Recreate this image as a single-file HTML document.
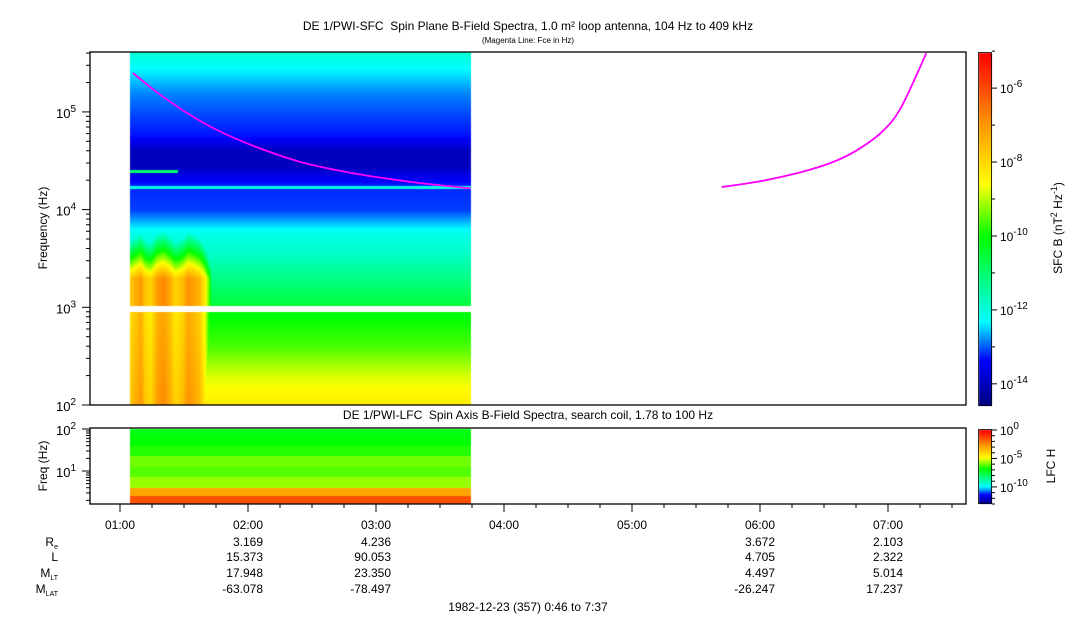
<!DOCTYPE html>
<html><head><meta charset="utf-8">
<style>
body{margin:0;background:#fff;width:1083px;height:620px;overflow:hidden;position:relative;font-family:"Liberation Sans",sans-serif;}
canvas{position:absolute;left:0;top:0;}
svg{position:absolute;left:0;top:0;}
</style></head>
<body>
<canvas id="cv" width="1083" height="620"></canvas>
<svg id="sv" width="1083" height="620" font-family="Liberation Sans, sans-serif"></svg>
<script>
// ---- data ----
const sfcBgLogF = [2.0, 2.3, 2.6, 2.95, 3.05, 3.3, 3.55, 3.75, 3.9, 4.0, 4.25, 4.45, 4.6, 4.75, 4.95, 5.2, 5.45, 5.62];
const sfcBgPow  = [-8.3, -8.8, -9.6, -10.1, -10.6, -11.2, -11.8, -12.1, -12.7, -13.1, -13.2, -14.0, -14.0, -13.3, -13.1, -12.8, -12.3, -11.9];
const burstTimes = [1.08, 1.12, 1.16, 1.20, 1.24, 1.29, 1.34, 1.38, 1.43, 1.48, 1.53, 1.57, 1.62, 1.66, 1.71];
const burstPow   = [-7.7, -7.3, -7.0, -7.8, -7.9, -7.0, -6.8, -7.2, -7.9, -7.6, -6.9, -7.1, -7.5, -8.3, -10.2];
const dataStart = 1.078, dataEnd = 3.74;
const fceTimesA = [1.10, 1.30, 1.52, 1.75, 2.04, 2.40, 2.82, 3.30, 3.74];
const fceHzA    = [250000, 155000, 98000, 66000, 45000, 31000, 23600, 19000, 16500];
const fceTimesB = [5.70, 6.00, 6.31, 6.55, 6.75, 6.95, 7.10, 7.30];
const fceHzB    = [17000, 19500, 24000, 30000, 40000, 62000, 110000, 400000];
const lfcBandLogF = [2.0, 1.85, 1.6, 1.35, 1.1, 0.85, 0.6, 0.4, 0.21];
const lfcBandPow  = [-7.0, -6.8, -6.5, -5.9, -6.1, -5.6, -2.9, -1.4];
const hourTicks = ["01:00","02:00","03:00","04:00","05:00","06:00","07:00"];
const ephemLabels = ["R","L","M","M"];
const ephemSubs = ["e","","LT","LAT"];
const ephemCols = [2, 3, 6, 7];
const ephemRe  = ["3.169","4.236","3.672","2.103"];
const ephemL   = ["15.373","90.053","4.705","2.322"];
const ephemMLT = ["17.948","23.350","4.497","5.014"];
const ephemMLAT= ["-63.078","-78.497","-26.247","17.237"];

// ---- axes ----
const X0=90,X1=966;
const tx = t => 120 + (t-1)*128;
const fy = lf => 405 - (lf-2)*97.7;
const ly = lf => 471 - (lf-1)*42;
const stops=[[0,[0,0,127]],[0.13,[0,0,255]],[0.24,[0,255,255]],[0.48,[0,255,0]],[0.63,[255,255,0]],[0.8,[255,150,0]],[1,[255,0,0]]];
function cmap(n){n=Math.max(0,Math.min(1,n));for(let i=1;i<stops.length;i++){if(n<=stops[i][0]){const a=stops[i-1],b=stops[i],f=(n-a[0])/(b[0]-a[0]);return a[1].map((v,k)=>Math.round(v+(b[1][k]-v)*f));}}return stops[stops.length-1][1];}
const sfcN = p => (p+14.6)/9.55;
const lfcN = p => (p+13)/13;
function interp(xs,ys,x){if(x<=xs[0])return ys[0];for(let i=1;i<xs.length;i++){if(x<=xs[i]){const f=(x-xs[i-1])/(xs[i]-xs[i-1]);return ys[i-1]+(ys[i]-ys[i-1])*f;}}return ys[ys.length-1];}

const cv=document.getElementById('cv'),ctx=cv.getContext('2d');
const img=ctx.createImageData(1083,620);
function put(x,y,c){const i=(y*1083+x)*4;img.data[i]=c[0];img.data[i+1]=c[1];img.data[i+2]=c[2];img.data[i+3]=255;}
const xa=Math.round(tx(dataStart)), xb=Math.round(tx(dataEnd));
const tEnd=burstTimes[burstTimes.length-1];
for(let x=xa;x<xb;x++){
  const t=1+(x-120)/128;
  const bp = t<=tEnd ? interp(burstTimes,burstPow,t) : -20;
  for(let y=52;y<405;y++){
    if(y>=306&&y<312)continue;
    const lf=2+(405-y)/97.7;
    let p=interp(sfcBgLogF,sfcBgPow,lf);
    if(y>=312){ p=Math.max(p,bp-(lf-2)*0.4); }
    else {
      p=Math.max(p,bp-Math.max(0,lf-3.3)*11);
      if(t<1.62 && lf>3.35 && lf<3.95){p=Math.max(p,-11.2-(lf-3.4)*3.6);}
    }
    if(Math.abs(y-187)<=1.5) p=-12.1;
    if(Math.abs(y-171)<=1 && t<1.45) p=-11.0;
    put(x,y,cmap(sfcN(p)));
  }
  for(let b=0;b<lfcBandPow.length;b++){
    const ya=Math.round(ly(lfcBandLogF[b])), yb=Math.round(ly(lfcBandLogF[b+1]));
    const c=cmap(lfcN(lfcBandPow[b]));
    for(let y=Math.max(ya,429);y<Math.min(yb,504);y++)put(x,y,c);
  }
}
for(let y=53;y<406;y++){const c=cmap((406-y)/353);for(let x=979;x<992;x++)put(x,y,c);}
for(let y=430;y<504;y++){const c=cmap((504-y)/74);for(let x=979;x<992;x++)put(x,y,c);}
ctx.putImageData(img,0,0);

// ---- svg ----
const sv=document.getElementById('sv');const NS='http://www.w3.org/2000/svg';
function el(tag,attrs,parent){const e=document.createElementNS(NS,tag);for(const k in attrs)e.setAttribute(k,attrs[k]);(parent||sv).appendChild(e);return e;}
function txt(s,x,y,size,anchor,name){const e=el('text',{x:x,y:y,'font-size':size,'text-anchor':anchor||'start',fill:'#000'});e.textContent=s;


return e;}
function sup(base,exp,x,y,name){const e=el('text',{x:x,y:y,'font-size':13,'text-anchor':'end',fill:'#000'});
const a=el('tspan',{},e);a.textContent=base;const b=el('tspan',{dy:-6,'font-size':10},e);b.textContent=exp;return e;}
const f1=el('rect',{x:X0,y:52,width:X1-X0,height:353,fill:'none',stroke:'#000','stroke-width':1.3});

const f2=el('rect',{x:X0,y:428,width:X1-X0,height:76,fill:'none',stroke:'#000','stroke-width':1.3});

for(let d=2;d<=5;d++){for(let m=1;m<10;m++){const lf=d+Math.log10(m);if(lf>5.62)break;const y=fy(lf);
 const l=el('line',{x1:X0-(m==1?8:4),x2:X0,y1:y,y2:y,stroke:'#000'});}
 sup('10',String(d),X0-14,fy(d)+6,'y-tick-label');}
for(let d=0;d<=2;d++){for(let m=1;m<10;m++){const lf=d+Math.log10(m);const y=ly(lf);if(y<428||y>504)continue;if(d==2&&m>1)break;
 const l=el('line',{x1:X0-(m==1?8:4),x2:X0,y1:y,y2:y,stroke:'#000'});}}
sup('10','2',X0-14,ly(2)+6,'lfc-y-tick-label');sup('10','1',X0-14,ly(1)+6,'lfc-y-tick-label');
let t1=txt('Frequency (Hz)',0,0,12,'middle','y-axis-title');t1.setAttribute('transform','translate(47,228) rotate(-90)');
let t2=txt('Freq (Hz)',0,0,12,'middle','lfc-y-axis-title');t2.setAttribute('transform','translate(47,466) rotate(-90)');
for(let q=0;q<=27;q++){const t=0.75+q*0.25;const x=tx(t);if(x<X0||x>X1)continue;const major=q%4==1;
 const l=el('line',{x1:x,x2:x,y1:504,y2:504+(major?8:4),stroke:'#000'});}
hourTicks.forEach((h,i)=>txt(h,tx(i+1),529,12,'middle','x-tick-label'));
const rowsY=[546,561,577,593];const rows=[ephemRe,ephemL,ephemMLT,ephemMLAT];
ephemLabels.forEach((s,i)=>{const e=el('text',{x:58,y:rowsY[i],'font-size':12,'text-anchor':'end',fill:'#000'});
 const a=el('tspan',{},e);a.textContent=s;if(ephemSubs[i]){const b=el('tspan',{dy:3,'font-size':7},e);b.textContent=ephemSubs[i];}});
rows.forEach((r,ri)=>r.forEach((v,ci)=>txt(v,tx(ephemCols[ci])+15,rowsY[ri],12,'end','ephemeris-value')));
txt('1982-12-23 (357) 0:46 to 7:37',528,611,12,'middle','date-range-label');
txt('DE 1/PWI-SFC\u00a0\u00a0Spin Plane B-Field Spectra, 1.0 m\u00b2 loop antenna, 104 Hz to 409 kHz',528,30,12,'middle','chart-title');
txt('(Magenta Line: Fce in Hz)',528,43,8,'middle','chart-subtitle');
txt('DE 1/PWI-LFC\u00a0\u00a0Spin Axis B-Field Spectra, search coil, 1.78 to 100 Hz',528,419,12,'middle','lfc-title');
function fceLine(ts,hs,name){const P=ts.map((t,i)=>[tx(t),fy(Math.log10(hs[i]))]);
 let d='M'+P[0][0].toFixed(1)+','+P[0][1].toFixed(1);
 for(let i=0;i<P.length-1;i++){const p0=P[Math.max(0,i-1)],p1=P[i],p2=P[i+1],p3=P[Math.min(P.length-1,i+2)];
  const c1=[p1[0]+(p2[0]-p0[0])/6,p1[1]+(p2[1]-p0[1])/6],c2=[p2[0]-(p3[0]-p1[0])/6,p2[1]-(p3[1]-p1[1])/6];
  d+=' C'+c1.map(v=>v.toFixed(1)).join(',')+' '+c2.map(v=>v.toFixed(1)).join(',')+' '+p2.map(v=>v.toFixed(1)).join(',');}
 const p=el('path',{d:d,fill:'none',stroke:'#ff00ff','stroke-width':1.8});}
fceLine(fceTimesA,fceHzA,'fce-line-early');fceLine(fceTimesB,fceHzB,'fce-line-late');
const cb1=el('rect',{x:978.5,y:52.5,width:13,height:353,fill:'none',stroke:'#000','stroke-width':0.8});
const cb2=el('rect',{x:978.5,y:429.5,width:13,height:74,fill:'none',stroke:'#000','stroke-width':0.8});
function sup2(b,e,x,y,name){const t=el('text',{x:x,y:y,'font-size':12,fill:'#000'});
 const a=el('tspan',{},t);a.textContent=b;const c=el('tspan',{dy:-6,'font-size':10},t);c.textContent=e;}
for(let p=-14;p<=-5;p++){const y=406-(p+14.6)/9.55*353;const major=(p%2==0);
 const l=el('line',{x1:992,x2:992+(major?5:3),y1:y,y2:y,stroke:'#000'});
 if(major)sup2('10',String(p),1000,y+5,'colorbar-tick-label');}
for(let p=0;p>=-13;p--){const y=504-(p+13)/13*74;const major=(p%5==0);
 const l=el('line',{x1:992,x2:992+(major?5:3),y1:y,y2:y,stroke:'#000'});
 if(major)sup2('10',String(p),1000,y+5,'lfc-colorbar-tick-label');}
let c1=el('text',{'font-size':12,'text-anchor':'middle',fill:'#000',transform:'translate(1062,228) rotate(-90)'});
[['SFC B (nT',0],['2',-5],[' Hz',5],['-1',-5],[')',5]].forEach(([s,dy])=>{const ts=el('tspan',{dy:dy,'font-size':(s=='2'||s=='-1')?9:12},c1);ts.textContent=s;});
let c2=txt('LFC H',0,0,12,'middle','lfc-colorbar-title');c2.setAttribute('transform','translate(1055,466) rotate(-90)');
</script>
</body></html>
